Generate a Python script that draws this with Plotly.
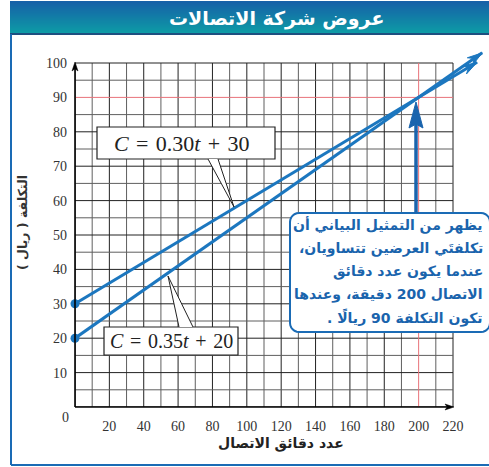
import plotly.graph_objects as go
import math

# ---------------- data ----------------
minutes_a = [0, 234]          # C = 0.30t + 30
cost_a = [30, 100.2]
minutes_b = [0, 237]          # C = 0.35t + 20
cost_b = [20, 102.95]
x_ticks = [20, 40, 60, 80, 100, 120, 140, 160, 180, 200, 220]
y_ticks = [10, 20, 30, 40, 50, 60, 70, 80, 90, 100]
grid_x = list(range(0, 221, 10))
grid_y = list(range(0, 101, 5))
equal_minutes = 200
equal_cost = 90
label_a = "<i>C</i>\u2004=\u20040.30<i>t</i>\u2004+\u200430"
label_b = "<i>C</i>\u2004=\u20040.35<i>t</i>\u2004+\u200420"
title_text = "عروض شركة الاتصالات"
x_title = "عدد دقائق الاتصال"
y_title = "التكلفة ( ريال )"
note_lines = [
    "يظهر من التمثيل البياني أن",
    "تكلفتَي العرضين تتساويان،",
    "عندما يكون عدد دقائق",
    "الاتصال 200 دقيقة، وعندها",
    "تكون التكلفة 90 ريالًا .",
]

# ---------------- geometry ----------------
W, H = 489, 467
L, R, T, B = 75, 0, 40, 60
PXU = 378 / 220.0   # px per minute
PYU = 3.44          # px per riyal
XMAX = (W - L - R) / PXU
YMAX = (H - T - B) / PYU
BLUE = "#1c77bf"
DBLUE = "#1a64ad"
ARABIC = "DejaVu Sans"
SERIF = "Liberation Serif"
RLM = "\u200F"


def P(px, py):
    return (px - L) / (W - L - R), (H - B - py) / (H - T - B)


def d2px(x, y):
    return L + x * PXU, (H - B) - y * PYU


def path_px(pts, close=True):
    s = ""
    for i, (px, py) in enumerate(pts):
        x, y = P(px, py)
        s += ("M" if i == 0 else "L") + f"{x:.5f},{y:.5f} "
    return s + ("Z" if close else "")


def head(tip, frm, length, width, notch):
    tx, ty = tip
    dx, dy = tx - frm[0], ty - frm[1]
    n = (dx * dx + dy * dy) ** 0.5
    dx, dy = dx / n, dy / n
    nx, ny = -dy, dx
    bx, by = tx - length * dx, ty - length * dy
    return [(tx, ty), (bx + nx * width / 2, by + ny * width / 2),
            (tx - notch * length * dx, ty - notch * length * dy),
            (bx - nx * width / 2, by - ny * width / 2)]


shapes = []
# title bar gradient
top_c = (0x17, 0x60, 0xa8)
bot_c = (0x0e, 0x9b, 0xa6)
y0, y1 = 1, 33
for i in range(y0, y1):
    f = (i - y0) / (y1 - y0 - 1)
    c = tuple(int(top_c[k] + (bot_c[k] - top_c[k]) * f) for k in range(3))
    ax0, ay0 = P(10, i)
    ax1, ay1 = P(W + 2, i + 1)
    shapes.append(dict(type="rect", xref="paper", yref="paper", x0=ax0, x1=ax1, y0=ay1, y1=ay0,
                       line=dict(width=0), fillcolor="rgb(%d,%d,%d)" % c, layer="above"))
ax0, ay0 = P(10, 33)
ax1, ay1 = P(W + 2, 35)
shapes.append(dict(type="rect", xref="paper", yref="paper", x0=ax0, x1=ax1, y0=ay1, y1=ay0,
                   line=dict(width=0), fillcolor="#1d4f80", layer="above"))
# outer frame
fa, fb = P(11, 34)
fc, fd = P(11, 465)
shapes.append(dict(type="line", xref="paper", yref="paper", x0=fa, x1=fc, y0=fb, y1=fd,
                   line=dict(color="#1a6bb5", width=2)))
fe, ff = P(W + 2, 465)
shapes.append(dict(type="line", xref="paper", yref="paper", x0=fc, x1=fe, y0=fd, y1=ff,
                   line=dict(color="#1a6bb5", width=2)))

# grid
for gx in grid_x:
    if gx == equal_minutes:
        continue
    col = "#222222" if gx % 20 == 0 else "#5f5f5f"
    shapes.append(dict(type="line", xref="x", yref="y", x0=gx, x1=gx, y0=0, y1=100,
                       line=dict(color=col, width=1), layer="below"))
for gy in grid_y:
    if gy == equal_cost:
        continue
    col = "#222222" if gy % 10 == 0 else "#5f5f5f"
    shapes.append(dict(type="line", xref="x", yref="y", x0=0, x1=220, y0=gy, y1=gy,
                       line=dict(color=col, width=1), layer="below"))
shapes.append(dict(type="line", xref="x", yref="y", x0=equal_minutes, x1=equal_minutes, y0=0, y1=100,
                   line=dict(color="#e8737a", width=1), layer="below"))
shapes.append(dict(type="line", xref="x", yref="y", x0=0, x1=220, y0=equal_cost, y1=equal_cost,
                   line=dict(color="#e8737a", width=1), layer="below"))

# axes lines with arrows
ox, oy = d2px(0, 0)
xe, _ = d2px(220, 0)
_, ye = d2px(0, 100)
shapes.append(dict(type="path", xref="paper", yref="paper", path=path_px([(ox, oy), (xe - 6, oy)], False),
                   line=dict(color="black", width=1.6)))
shapes.append(dict(type="path", xref="paper", yref="paper", path=path_px(head((xe + 1, oy), (ox, oy), 9, 6, 0.75)),
                   line=dict(color="black", width=0.5), fillcolor="black"))
shapes.append(dict(type="path", xref="paper", yref="paper", path=path_px([(ox, oy), (ox, ye + 6)], False),
                   line=dict(color="black", width=1.6)))
shapes.append(dict(type="path", xref="paper", yref="paper", path=path_px(head((ox, ye - 1), (ox, oy), 9, 6, 0.75)),
                   line=dict(color="black", width=0.5), fillcolor="black"))

# line arrowheads
for mins, costs in ((minutes_a, cost_a), (minutes_b, cost_b)):
    tip = d2px(mins[-1], costs[-1])
    frm = d2px(mins[0], costs[0])
    shapes.append(dict(type="path", xref="paper", yref="paper", path=path_px(head(tip, frm, 15, 9, 0.65)),
                       line=dict(color=BLUE, width=1), fillcolor=BLUE))


def rect_px(x0, y0, x1, y1, **kw):
    a, b = P(x0, y0)
    c, d = P(x1, y1)
    return dict(type="rect", xref="paper", yref="paper", x0=a, x1=c, y0=d, y1=b, **kw)

# equation boxes and pointers
shapes.append(rect_px(97, 127, 275, 159, line=dict(color="#222", width=1.2), fillcolor="white"))
shapes.append(dict(type="path", xref="paper", yref="paper", path=path_px([(208, 159), (234, 207), (218, 159)], False),
                   line=dict(color="#222", width=1), fillcolor="white"))
shapes.append(rect_px(104, 327, 238, 355, line=dict(color="#222", width=1.2), fillcolor="white"))
shapes.append(dict(type="path", xref="paper", yref="paper", path=path_px([(179, 327), (168, 276), (193, 327)], False),
                   line=dict(color="#222", width=1), fillcolor="white"))

# callout box (rounded)
bx0, by0, bx1, by1, r = 290, 213, 490, 332, 9
pts = []
for cx, cy, a0 in ((bx1 - r, by0 + r, -90), (bx1 - r, by1 - r, 0), (bx0 + r, by1 - r, 90), (bx0 + r, by0 + r, 180)):
    for k in range(7):
        a = math.radians(a0 + k * 15)
        pts.append((cx + r * math.cos(a), cy + r * math.sin(a)))
shapes.append(dict(type="path", xref="paper", yref="paper", path=path_px(pts),
                   line=dict(color="#1a6bb5", width=2), fillcolor="white"))

# vertical arrow to intersection
vx = 416
shapes.append(dict(type="path", xref="paper", yref="paper", path=path_px([(vx, 213), (vx, 122)], False),
                   line=dict(color=DBLUE, width=3.5)))
shapes.append(dict(type="path", xref="paper", yref="paper", path=path_px(head((vx, 102), (vx, 213), 26, 14, 0.85)),
                   line=dict(color=DBLUE, width=1), fillcolor=DBLUE))

# ---------------- annotations ----------------
ann = []


def text_px(px, py, text, size, color, family, bold=False, xanchor="center", **kw):
    x, y = P(px, py)
    if bold:
        text = "<b>" + text + "</b>"
    ann.append(dict(xref="paper", yref="paper", x=x, y=y, text=text, showarrow=False,
                    xanchor=xanchor, yanchor="middle", font=dict(size=size, color=color, family=family), **kw))

text_px(276, 18, title_text, 19, "white", ARABIC, bold=True)
text_px(182, 143, label_a, 22, "#222", SERIF)
text_px(171, 341, label_b, 20, "#222", SERIF)
for i, line in enumerate(note_lines):
    text_px(485, 225 + i * 23.2, RLM + line + RLM, 14, DBLUE, ARABIC, bold=True, xanchor="right")
text_px(281, 443, x_title, 14, "#222", ARABIC, bold=True)
text_px(22, 222, RLM + y_title + RLM, 12.5, "#333", ARABIC, bold=True, textangle=-90)
text_px(65, 418, "0", 14, "#333", SERIF)

# ---------------- figure ----------------
fig = go.Figure()
for mins, costs in ((minutes_a, cost_a), (minutes_b, cost_b)):
    fig.add_trace(go.Scatter(x=mins, y=costs, mode="lines", line=dict(color=BLUE, width=3),
                             hoverinfo="skip", showlegend=False))
    fig.add_trace(go.Scatter(x=[mins[0]], y=[costs[0]], mode="markers", cliponaxis=False,
                             marker=dict(color=BLUE, size=9), hoverinfo="skip", showlegend=False))

fig.update_layout(
    width=W, height=H, margin=dict(l=L, r=R, t=T, b=B, pad=0),
    paper_bgcolor="white", plot_bgcolor="white",
    xaxis=dict(range=[0, XMAX], showgrid=False, zeroline=False, showline=False,
               tickvals=x_ticks, ticktext=[str(v) for v in x_ticks], ticks="",
               ticklabelstandoff=9, tickfont=dict(family=SERIF, size=14, color="#333"), fixedrange=True),
    yaxis=dict(range=[0, YMAX], showgrid=False, zeroline=False, showline=False,
               tickvals=y_ticks, ticktext=[str(v) for v in y_ticks], ticks="",
               ticklabelstandoff=7, tickfont=dict(family=SERIF, size=14, color="#333"), fixedrange=True),
    shapes=shapes, annotations=ann, showlegend=False, hovermode=False,
)
fig.write_html("out.html", config={"displayModeBar": False},
               post_script="document.body.style.margin='0';document.body.style.overflow='hidden';")
